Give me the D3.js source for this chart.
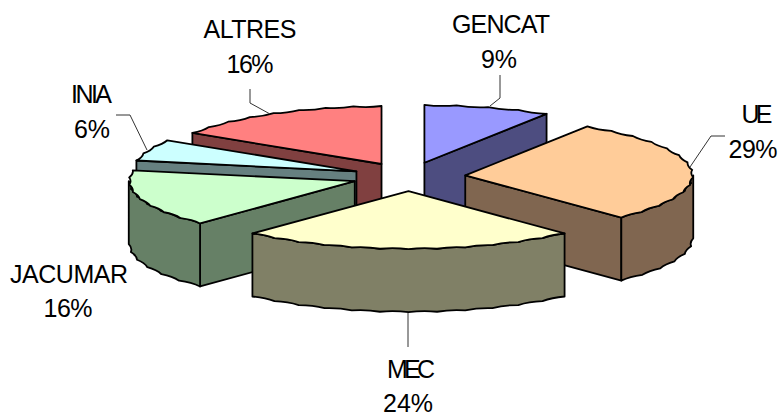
<!DOCTYPE html>
<html><head><meta charset="utf-8">
<script src="https://cdn.jsdelivr.net/npm/d3@7"></script>
<style>html,body{margin:0;padding:0;background:#fff}svg{display:block}
text{font-family:"Liberation Sans",Arial,sans-serif;font-size:25px;fill:#000;text-anchor:middle}</style>
</head><body><svg id="c" width="780" height="419"></svg>
<script>
const categories=["GENCAT","UE","MEC","JACUMAR","INIA","ALTRES"];
const values=[9,29,24,16,6,16];
const percentLabels=["9%","29%","24%","16%","6%","16%"];
const topColors=["#9999FF","#FFCC99","#FFFFCC","#CCFFCC","#CCFFFF","#FF8080"];
const sideColors=["#4D4D80","#806650","#808066","#668066","#668080","#804040"];
// layout
const cx=408.5,cy=176.7,ry=58,depth=63,explode=0.25;
const rxBySlice=[228,228,228,226,224,224];
const labelX=[[501,499],[757,753],[411,408],[69,68],[91.5,92],[250,250]];
const labelY=[[33,68],[123,158],[378,412],[283,317],[103,138],[38,73]];
const labelW=[98,31,48,118,41,93];
const percentW=[36,49,50,49,36,47];
const leaders=[[[500,75],[500,98],[490,106]],[[725,136],[711,136],[690,167]],[[408,313],[408,347]],null,[[116,115],[130,115],[147,150]],[[250,89],[250,103],[270,114]]];

const svg=d3.select("#c");
const arcs=d3.pie().sort(null).value(d=>d)(values).map((a,i)=>({...a,i,
  sx:d3.scaleLinear().domain([-1,1]).range([-rxBySlice[i],rxBySlice[i]])}));
const TAU=2*Math.PI;
const sy=d3.scaleLinear().domain([-1,1]).range([ry,-ry]);
function centre(a){const m=(a.startAngle+a.endAngle)/2;
  return [cx+explode*a.sx(Math.sin(m)),cy+explode*sy(Math.cos(m))];}
function pt(a,c,t,dz=0){return [c[0]+a.sx(Math.sin(t)),c[1]+sy(Math.cos(t))+dz];}
function arcPts(a,c,t0,t1,dz){const n=Math.max(1,Math.round(Math.abs(t1-t0)/(TAU/48)));
  return d3.range(n+1).map(k=>pt(a,c,t0+(t1-t0)*k/n,dz));}
// scalloped arc: each chord bows slightly toward the pie centre
function scallop(p,pts,c,dz){for(let k=1;k<pts.length;k++){const a=pts[k-1],b=pts[k];
    const mx=(a[0]+b[0])/2,my=(a[1]+b[1])/2;
    const q=[mx+(c[0]-mx)*0.012,my+(c[1]+dz-my)*0.03];
    p.quadraticCurveTo(q[0],q[1],b[0],b[1]);}}
function face(fill,build){const p=d3.path();build(p);
  svg.append("path").attr("d",p.toString()).attr("fill",fill).attr("stroke","#000")
    .attr("stroke-width",1.8).attr("stroke-linejoin","round");}
function radialWall(a,c,t){const e=pt(a,c,t),e2=pt(a,c,t,depth);
  face(sideColors[a.i],p=>{p.moveTo(c[0],c[1]);p.lineTo(e[0],e[1]);p.lineTo(e2[0],e2[1]);p.lineTo(c[0],c[1]+depth);p.closePath();});}
function drawSlice(a){const c=centre(a),s=a.startAngle,e=a.endAngle;
  if(s>Math.PI-1e-6&&s<TAU) radialWall(a,c,s);
  if(e>0&&e<Math.PI) radialWall(a,c,e);
  const w0=Math.max(s,Math.PI/2),w1=Math.min(e,3*Math.PI/2);
  if(w1>w0){const top=arcPts(a,c,w0,w1,0),bot=arcPts(a,c,w1,w0,depth);
    face(sideColors[a.i],p=>{p.moveTo(top[0][0],top[0][1]);scallop(p,top,c,0);
      p.lineTo(bot[0][0],bot[0][1]);scallop(p,bot,c,depth);p.closePath();});}
  const pts=arcPts(a,c,s,e,0);
  face(topColors[a.i],p=>{p.moveTo(c[0],c[1]);p.lineTo(pts[0][0],pts[0][1]);scallop(p,pts,c,0);p.closePath();});
}
const line=d3.line();
[5,4,3,0,1,2].forEach(i=>drawSlice(arcs[i]));
leaders.forEach(l=>{if(l)svg.append("path").attr("d",line(l)).attr("fill","none").attr("stroke","#333").attr("stroke-width",1);});
categories.forEach((n,i)=>{
  svg.append("text").attr("x",labelX[i][0]).attr("y",labelY[i][0])
    .attr("textLength",labelW[i]).attr("lengthAdjust","spacing").text(n);
  svg.append("text").attr("x",labelX[i][1]).attr("y",labelY[i][1])
    .attr("textLength",percentW[i]).attr("lengthAdjust","spacing").text(percentLabels[i]);
});
</script></body></html>
